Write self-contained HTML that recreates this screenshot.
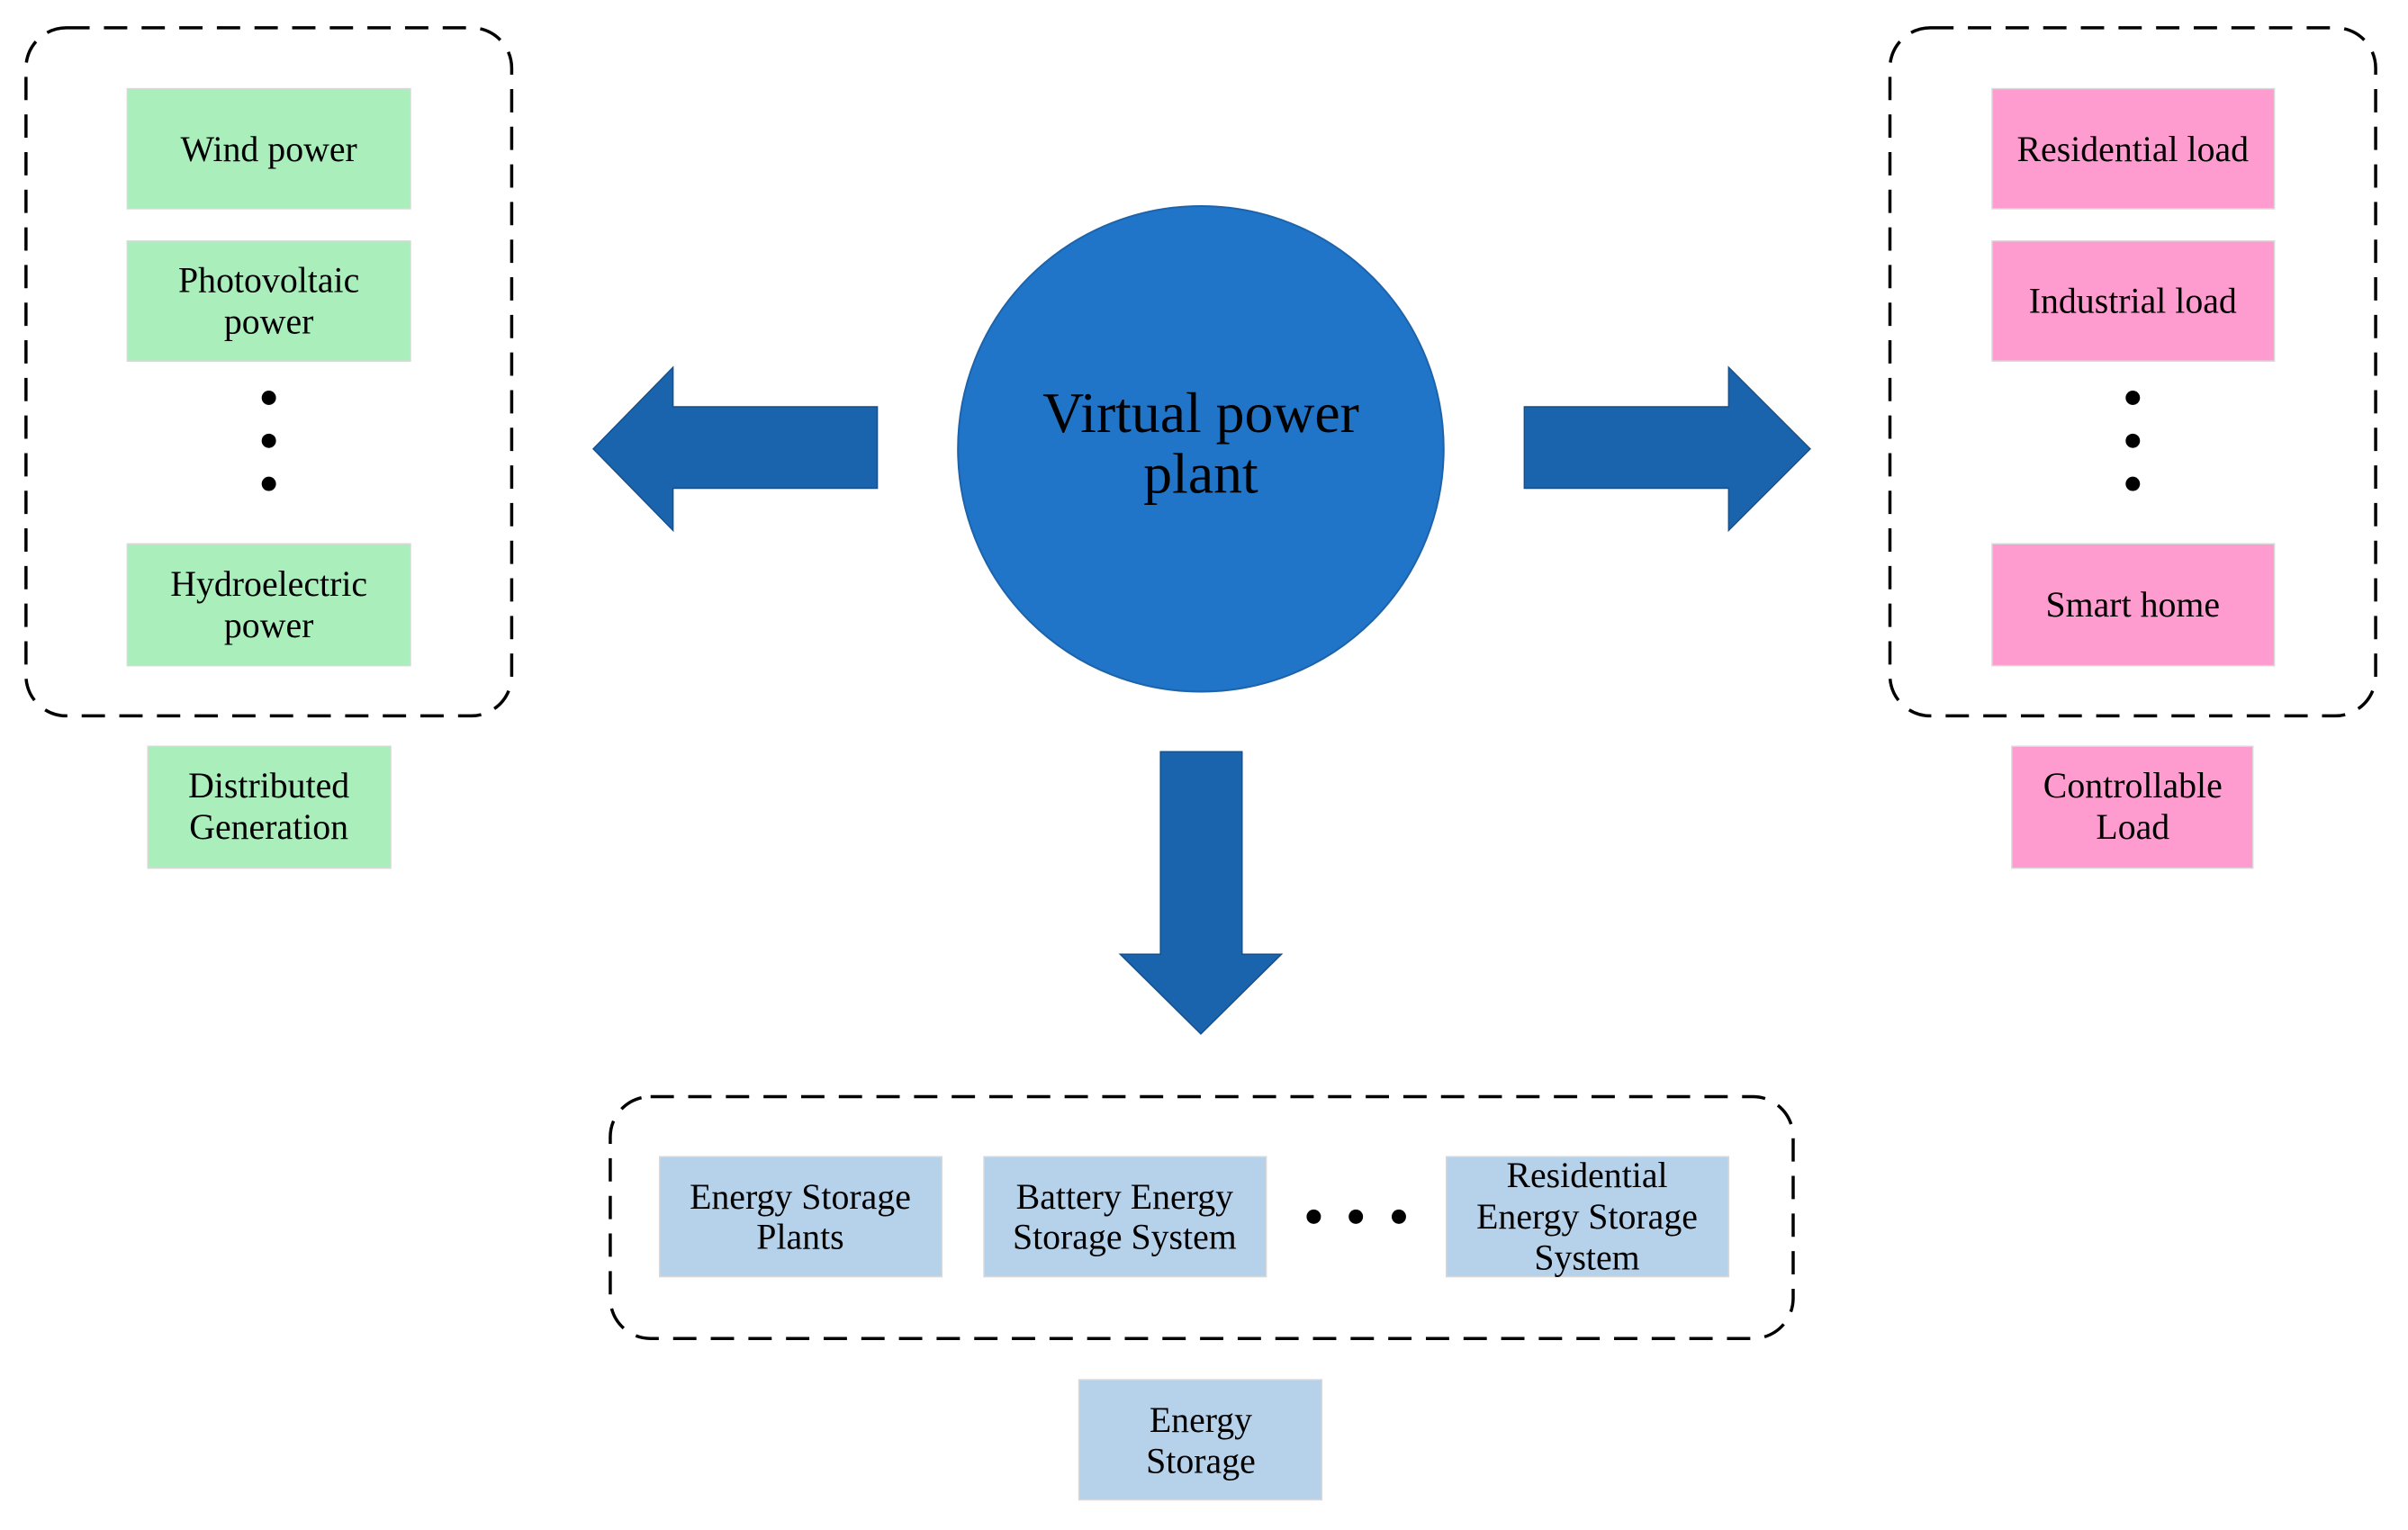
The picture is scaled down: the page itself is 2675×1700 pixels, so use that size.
<!DOCTYPE html>
<html><head><meta charset="utf-8"><style>
html,body{margin:0;padding:0;background:#fff;}
svg{display:block;}
text{font-family:"Liberation Serif",serif;font-size:40px;fill:#000;text-anchor:middle;}
</style></head><body>
<svg width="2675" height="1700" viewBox="0 0 2675 1700" xmlns="http://www.w3.org/2000/svg">
<g transform="scale(0.9955)">
<g fill="none" stroke="#000" stroke-width="3.5" stroke-dasharray="26,16">
<rect x="29" y="31" width="542" height="768" rx="45"/>
<rect x="2109" y="31" width="542" height="768" rx="45"/>
<rect x="681" y="1224" width="1320" height="270" rx="45"/>
</g>
<g stroke="#d8d8d8" stroke-width="1.5">
<rect x="142" y="99" width="316" height="134" fill="#aaeebc"/>
<rect x="142" y="269" width="316" height="134" fill="#aaeebc"/>
<rect x="142" y="607" width="316" height="136" fill="#aaeebc"/>
<rect x="165" y="833" width="271" height="136" fill="#aaeebc"/>
<rect x="2223" y="99" width="315" height="134" fill="#ff9ccf"/>
<rect x="2223" y="269" width="315" height="134" fill="#ff9ccf"/>
<rect x="2223" y="607" width="315" height="136" fill="#ff9ccf"/>
<rect x="2245" y="833" width="269" height="136" fill="#ff9ccf"/>
<rect x="736" y="1291" width="315" height="134" fill="#b6d1ea"/>
<rect x="1098" y="1291" width="315" height="134" fill="#b6d1ea"/>
<rect x="1614" y="1291" width="315" height="134" fill="#b6d1ea"/>
<rect x="1204" y="1540" width="271" height="134" fill="#b6d1ea"/>
</g>
<g fill="#000">
<circle cx="300" cy="444" r="8"/><circle cx="300" cy="492" r="8"/><circle cx="300" cy="540" r="8"/>
<circle cx="2380" cy="444" r="8"/><circle cx="2380" cy="492" r="8"/><circle cx="2380" cy="540" r="8"/>
<circle cx="1466" cy="1358" r="8"/><circle cx="1513" cy="1358" r="8"/><circle cx="1561" cy="1358" r="8"/>
</g>
<g fill="#1a64ae" stroke="#174f8a" stroke-width="1.5">
<polygon points="662,501 751,410 751,454 979,454 979,545 751,545 751,592"/>
<polygon points="2020,501 1929,410 1929,454 1701,454 1701,545 1929,545 1929,592"/>
<polygon points="1295,839 1386,839 1386,1065 1430,1065 1340,1154 1250,1065 1295,1065"/>
</g>
<circle cx="1340" cy="501" r="271" fill="#2175c9" stroke="#1d63aa" stroke-width="2"/>
<text x="1340" y="482" style="font-size:64px">Virtual power</text>
<text x="1340" y="550" style="font-size:64px">plant</text>
<text x="300" y="180">Wind power</text>
<text x="300" y="326">Photovoltaic</text>
<text x="300" y="372">power</text>
<text x="300" y="665">Hydroelectric</text>
<text x="300" y="711">power</text>
<text x="300" y="890">Distributed</text>
<text x="300" y="936">Generation</text>
<text x="2380" y="180">Residential load</text>
<text x="2380" y="349">Industrial load</text>
<text x="2380" y="688">Smart home</text>
<text x="2380" y="890">Controllable</text>
<text x="2380" y="936">Load</text>
<text x="893" y="1349">Energy Storage</text>
<text x="893" y="1394">Plants</text>
<text x="1255" y="1349">Battery Energy</text>
<text x="1255" y="1394">Storage System</text>
<text x="1771" y="1325">Residential</text>
<text x="1771" y="1371">Energy Storage</text>
<text x="1771" y="1417">System</text>
<text x="1340" y="1598">Energy</text>
<text x="1340" y="1644">Storage</text>
</g>
</svg>
</body></html>
